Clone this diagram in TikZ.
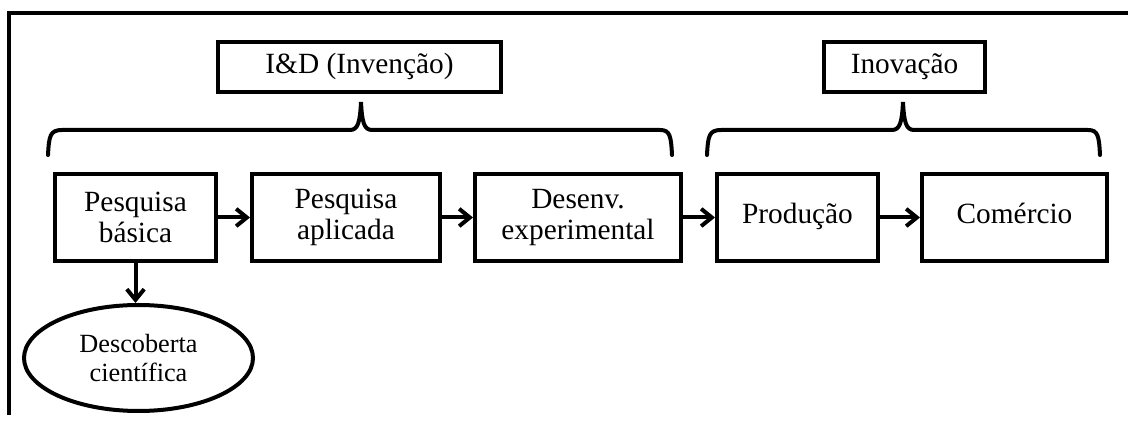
\documentclass[tikz,border=0pt]{standalone}
\usepackage{fontspec}
\setmainfont{Liberation Serif}
\usetikzlibrary{arrows.meta,shapes.geometric}

\tikzset{
  stage/.style={draw, line width=3pt, minimum height=65.25pt, inner sep=2pt,
    align=center, font=\fontsize{22}{23.5}\selectfont},
  phase/.style={draw, line width=3pt, minimum height=37.5pt,
    font=\fontsize{22}{23.5}\selectfont},
  flow/.style={line width=3pt, -{Straight Barb[length=8pt,width=13pt]}},
  bracket/.style={line width=3pt, line cap=round}
}

\begin{document}
\begin{tikzpicture}[x=0.75pt, y=-0.75pt]
      \useasboundingbox (0,0) rectangle (1128,423);
      \draw[line width=3pt] (9,415) -- (9,13) -- (1128,13);
      % phases
      \node[phase, minimum width=212.25pt] (ied) at (359.5,67) {\strut I\&D (Invenção)};
      \node[phase, minimum width=120.75pt] (inov) at (904.5,67) {\strut Inovação};
      \draw[bracket] (48,155) .. controls (49,136) and (50,130) .. (62,130) -- (350,130)
        .. controls (358,130) and (360,122) .. (361,102)
        .. controls (362,122) and (364,130) .. (372,130) -- (660,130)
        .. controls (670,130) and (671,136) .. (672,155);
      \draw[bracket] (707,155) .. controls (708,136) and (709,130) .. (721,130) -- (892,130)
        .. controls (900,130) and (902,122) .. (903,102)
        .. controls (904,122) and (906,130) .. (914,130) -- (1088,130)
        .. controls (1098,130) and (1099,136) .. (1100,155);
      % stages
      \node[stage, minimum width=120.75pt] (basica) at (135.5,217.5) {Pesquisa\\básica};
      \node[stage, minimum width=141pt] (aplicada) at (346,217.5) {Pesquisa\\aplicada};
      \node[stage, minimum width=154.5pt] (desenv) at (578,217.5) {Desenv.\\experimental};
      \node[stage, minimum width=120.75pt] (producao) at (797.5,217.5) {\strut Produção};
      \node[stage, minimum width=138.75pt] (comercio) at (1014.5,217.5) {\strut Comércio};
      \node[draw, ellipse, line width=3pt, inner sep=0pt, minimum width=171.75pt,
        minimum height=79.5pt, align=center, font=\fontsize{19.7}{22}\selectfont]
        (descoberta) at (138.5,358) {Descoberta\\científica};
      \draw[flow] (basica) -- (aplicada);
      \draw[flow] (aplicada) -- (desenv);
      \draw[flow] (desenv) -- (producao);
      \draw[flow] (producao) -- (comercio);
      \draw[flow] (basica) -- (basica |- descoberta.north);
\end{tikzpicture}
\end{document}
